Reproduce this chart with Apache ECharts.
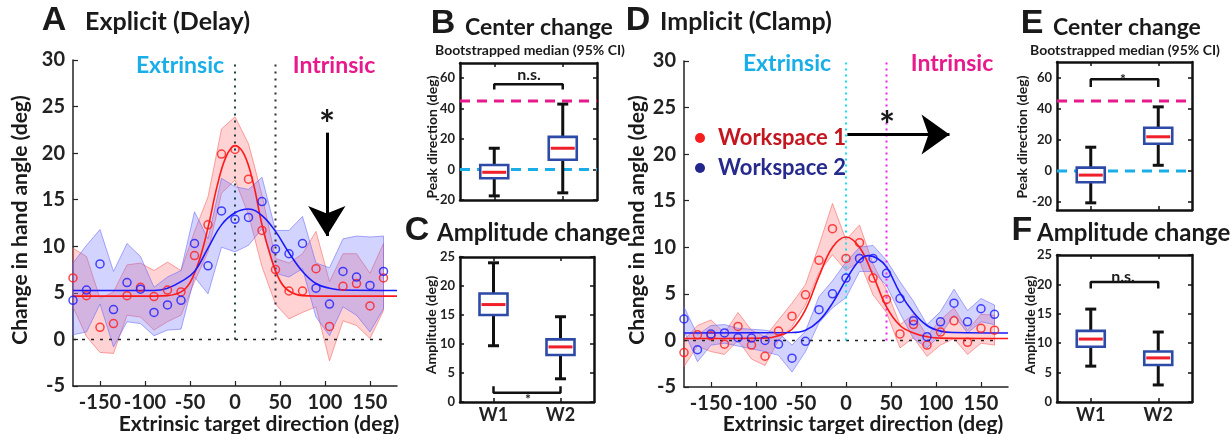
<!DOCTYPE html>
<html>
<head>
<meta charset="utf-8">
<script src="https://cdn.jsdelivr.net/npm/echarts@6/dist/echarts.min.js"></script>
<style>
  html, body { margin: 0; padding: 0; background: #fff; }
  #chart { width: 1231px; height: 434px; }
</style>
</head>
<body>
<div id="chart"></div>
<script>
// target directions (deg), shared by panels A and D
const dirs = [-180,-165,-150,-135,-120,-105,-90,-75,-60,-45,-30,-15,0,15,30,45,60,75,90,105,120,135,150,165];
const dirTicks = [-150,-100,-50,0,50,100,150];

// A - explicit (delay)
const aRedPts  = [6.6,4.7,1.3,1.7,4.7,5.6,4.6,5.3,5.1,9.0,12.3,19.9,20.4,17.2,11.7,7.5,5.2,5.2,7.6,1.4,5.7,6.0,3.6,6.6];
const aRedHi   = [9.8,8.9,4.4,5.1,8.0,8.2,7.4,8.3,7.4,11.6,15.3,22.6,23.9,21.0,15.5,8.7,8.2,9.2,11.6,6.2,9.2,9.2,7.1,10.3];
const aRedLo   = [3.5,0.3,-1.4,-1.5,2.6,2.4,1.0,1.9,2.6,6.2,9.4,15.7,17.1,13.4,7.8,3.8,2.2,2.9,3.5,-2.3,2.0,1.5,0.1,3.1];
const aBluePts = [4.2,5.3,8.1,3.2,6.1,5.4,2.9,3.7,4.2,10.3,7.9,13.8,12.9,13.1,14.8,9.7,9.2,10.3,5.5,3.8,7.3,6.7,5.8,7.3];
const aBlueHi  = [8.2,10.1,11.8,7.3,10.3,8.9,5.6,6.7,7.4,13.7,10.8,17.3,16.4,16.1,17.4,11.7,11.7,13.2,8.2,7.7,10.8,11.1,11.0,11.1];
const aBlueLo  = [0.5,0.8,3.8,-0.8,1.9,1.7,0.4,1.0,1.1,6.7,4.9,9.9,9.4,10.1,11.9,7.1,6.7,7.6,2.4,0.4,3.5,2.6,0.8,3.3];
const aRedFitX  = [-180,-90,-75,-60,-50,-40,-30,-20,-10,0,10,20,30,40,50,60,75,90,180];
const aRedFit   = [4.65,4.65,4.7,5.1,6.1,8.4,12.0,16.4,19.6,20.8,19.9,16.9,12.3,8.8,6.3,5.2,4.7,4.65,4.65];
const aBlueFitX = [-180,-90,-75,-60,-45,-30,-15,0,15,30,45,60,75,90,105,120,180];
const aBlueFit  = [5.25,5.25,5.5,6.2,7.3,9.8,12.3,13.6,14.0,13.3,11.6,9.3,7.3,6.0,5.5,5.3,5.25];

// D - implicit (clamp)
const dRedPts  = [-1.3,0.6,0.5,-0.4,1.5,-0.5,-1.7,1.0,2.6,4.9,8.6,12.0,8.8,10.5,6.7,4.4,0.7,1.7,-0.5,0.9,2.1,-0.2,1.3,1.1];
const dRedHi   = [0.0,1.6,2.2,0.8,3.0,1.1,0.4,2.2,4.0,6.0,10.2,14.7,10.8,12.4,8.2,5.4,1.7,2.8,0.5,2.2,3.5,1.1,2.8,2.7];
const dRedLo   = [-2.8,-0.6,-1.2,-1.5,0.0,-2.0,-2.7,0.0,1.5,3.8,7.3,9.2,7.5,8.5,4.9,3.0,-0.8,0.3,-1.7,-0.5,0.2,-1.5,-0.3,-0.5];
const dBluePts = [2.3,-1.0,0.7,0.8,0.3,0.25,0.0,-0.4,-1.9,-0.1,3.3,5.0,6.7,8.8,8.8,7.2,4.5,2.1,0.4,2.0,4.0,2.0,3.4,2.8];
const dBlueHi  = [3.6,0.6,1.6,1.7,1.3,1.2,1.1,0.8,-0.5,1.0,4.7,6.4,8.4,10.0,10.2,8.6,6.3,4.2,1.7,3.1,5.5,3.2,4.5,3.8];
const dBlueLo  = [1.0,-2.3,-0.5,-0.3,-0.6,-0.9,-1.2,-1.6,-3.4,-1.2,1.9,3.5,4.6,7.4,7.4,5.9,2.9,0.2,-0.8,0.6,2.7,0.8,2.0,1.7];
const dRedFitX  = [-180,-90,-75,-60,-45,-30,-15,0,15,30,45,60,75,90,105,180];
const dRedFit   = [0.2,0.25,0.5,1.2,3.3,6.9,10.0,11.1,10.0,7.0,3.6,1.6,0.8,0.4,0.25,0.2];
const dBlueFitX = [-180,-60,-45,-30,-15,0,15,25,35,45,60,75,90,105,120,180];
const dBlueFit  = [0.8,0.85,1.1,2.1,4.0,6.5,8.6,9.1,8.8,7.9,5.1,3.0,1.6,1.0,0.85,0.8];

// reference directions
const extrinsicDir = 0;
const intrinsicDir = 45;

// bootstrapped boxes: [min, q1, median, q3, max] for W1, W2
const groups = ['W1', 'W2'];
const boxB = [[-17.3,-5.7,-1.8,3.0,14.0],[-15.3,6.4,14.0,21.5,43.0]];
const boxC = [[9.7,15.0,16.8,18.7,24.0],[4.0,8.1,9.5,10.8,14.7]];
const boxE = [[-20.4,-7.2,-2.6,2.2,15.3],[3.7,17.5,22.0,27.8,41.2]];
const boxF = [[6.1,9.4,10.7,12.1,15.8],[2.9,6.3,7.5,8.6,11.9]];
// significance brackets [y of ends, y of bar]
const brB = [52.6, 56];
const brC = [2.7, 1.6];
const brE = [54, 59];
const brF = [19.3, 20.4];

const FONT = 'Lato';
const RED = '#ff1a1a', BLUE = '#1a1aff';

const pair = (xs, ys) => xs.map((x, i) => [x, ys[i]]);

// shaded CI band, drawn as one polygon through the axis scales
function bandSeries(lo, hi, edge, fill, ai) {
  return {
    type: 'custom', xAxisIndex: ai, yAxisIndex: ai, silent: true, z: 1, clip: false,
    encode: { x: 0, y: [1, 2] },
    data: dirs.map((d, i) => [d, lo[i], hi[i]]),
    renderItem: function (params, api) {
      if (params.dataIndexInside !== 0) return null;
      const n = params.dataInsideLength;
      const up = [], dn = [];
      for (let j = 0; j < n; j++) {
        const x = api.value(0, j);
        up.push(api.coord([x, api.value(2, j)]));
        dn.push(api.coord([x, api.value(1, j)]));
      }
      return { type: 'polygon', shape: { points: up.concat(dn.reverse()) },
        style: { fill: fill, stroke: edge, lineWidth: 1 } };
    }
  };
}

function refLine(ai, pts, color, width, dash) {
  return { type: 'line', xAxisIndex: ai, yAxisIndex: ai, data: pts, showSymbol: false, silent: true, z: 2,
    lineStyle: { color: color, width: width, type: dash } };
}

function fitLine(ai, xs, ys, color) {
  return { type: 'line', xAxisIndex: ai, yAxisIndex: ai, data: pair(xs, ys), smooth: 0.4, showSymbol: false,
    silent: true, z: 3, lineStyle: { color: color, width: 1.6 } };
}

function pts(ai, name, ys, color) {
  return { type: 'scatter', name: name, xAxisIndex: ai, yAxisIndex: ai, data: pair(dirs, ys), symbol: 'circle',
    symbolSize: 8, z: 4, itemStyle: { color: 'rgba(0,0,0,0)', borderColor: color, borderWidth: 1.5 } };
}

function renderBox(params, api) {
  const x = api.value(0);
  const c = [1, 2, 3, 4, 5].map(i => api.coord([x, api.value(i)]));
  const cx = c[0][0], bw = 28, cw = 11;
  const blk = { stroke: '#111', lineWidth: 3 };
  return { type: 'group', children: [
    { type: 'line', shape: { x1: cx, y1: c[4][1], x2: cx, y2: c[0][1] }, style: blk },
    { type: 'line', shape: { x1: cx - cw / 2, y1: c[4][1], x2: cx + cw / 2, y2: c[4][1] }, style: blk },
    { type: 'line', shape: { x1: cx - cw / 2, y1: c[0][1], x2: cx + cw / 2, y2: c[0][1] }, style: blk },
    { type: 'rect', shape: { x: cx - bw / 2, y: c[3][1], width: bw, height: c[1][1] - c[3][1] },
      style: { fill: '#fff', stroke: '#2c4aa6', lineWidth: 2.6 } },
    { type: 'line', shape: { x1: cx - bw / 2 + 2, y1: c[2][1], x2: cx + bw / 2 - 2, y2: c[2][1] },
      style: { stroke: '#f0202a', lineWidth: 3 } }
  ] };
}

function boxSeries(ai, boxes) {
  return { type: 'custom', xAxisIndex: ai, yAxisIndex: ai, renderItem: renderBox, clip: false, z: 5,
    encode: { x: 0, y: [1, 2, 3, 4, 5] }, data: boxes.map((b, i) => [i + 1].concat(b)) };
}

function bracket(ai, br) {
  return { type: 'line', xAxisIndex: ai, yAxisIndex: ai, showSymbol: false, silent: true, z: 6,
    data: [[1, br[0]], [1, br[1]], [2, br[1]], [2, br[0]]], lineStyle: { color: '#111', width: 2.5 } };
}

// axes helpers
const axLine = { onZero: false, lineStyle: { color: '#222', width: 1.5 } };
function mainX(gi, ticks) {
  return { gridIndex: gi, type: 'value', min: -180, max: 180, axisLine: axLine,
    axisTick: { inside: true, length: 5, customValues: ticks, lineStyle: { color: '#222', width: 1.2 } },
    axisLabel: { customValues: ticks, margin: 7, fontFamily: FONT, fontWeight: 'bold', fontSize: 20, color: '#222' },
    splitLine: { show: false } };
}
function mainY(gi) {
  return { gridIndex: gi, type: 'value', min: -5, max: 30, interval: 5, axisLine: axLine,
    axisTick: { inside: true, length: 5, lineStyle: { color: '#222', width: 1.2 } },
    axisLabel: { margin: 8, fontFamily: FONT, fontWeight: 'bold', fontSize: 20, color: '#222' },
    splitLine: { show: false } };
}
const frameLine = { show: true, onZero: false, lineStyle: { color: '#111', width: 2.5 } };
function boxX(gi, showLabels, pos) {
  return { gridIndex: gi, type: 'value', min: 0.5, max: 2.5, position: pos || 'bottom', axisLine: frameLine,
    axisTick: { inside: true, length: 4, customValues: [1, 2], lineStyle: { color: '#111', width: 1.5 } },
    axisLabel: { show: showLabels, customValues: [1, 2], margin: 4, formatter: v => groups[Math.round(v) - 1],
      fontFamily: FONT, fontWeight: 'bold', fontSize: 18, color: '#222' },
    splitLine: { show: false } };
}
function boxY(gi, min, max, ticks, showLabels, pos) {
  return { gridIndex: gi, type: 'value', min: min, max: max, position: pos || 'left', axisLine: frameLine,
    axisTick: { inside: true, length: 4, customValues: ticks, lineStyle: { color: '#111', width: 1.5 } },
    axisLabel: { show: showLabels, customValues: ticks, margin: 5, fontFamily: FONT, fontWeight: 'bold',
      fontSize: 13, color: '#222' },
    splitLine: { show: false } };
}

function txt(text, x, y, size, o) {
  o = o || {};
  return { type: 'text', x: x, y: y, rotation: o.rot || 0, z: 100, silent: true,
    style: { text: text, fontFamily: o.family || FONT, fontWeight: 'bold', fontSize: size,
      fill: o.color || '#1a1a1a', align: o.align || 'center', verticalAlign: 'middle' } };
}

const CYAN_T = '#19aee8', MAG_T = '#e8198c';
const ticksBE = [-20, 0, 20, 40, 60];
const ticksCF = [0, 5, 10, 15, 20, 25];

const option = {
  backgroundColor: '#fff',
  animation: false,
  grid: [
    { left: 73, top: 60, width: 324, height: 326 },     // A
    { left: 460, top: 63, width: 137, height: 137 },    // B
    { left: 460, top: 257, width: 134, height: 145 },   // C
    { left: 684, top: 61, width: 324, height: 326 },    // D
    { left: 1057, top: 62, width: 135, height: 148 },   // E
    { left: 1057, top: 255, width: 135, height: 147 }   // F
  ],
  xAxis: [
    mainX(0, dirTicks), boxX(1, false), boxX(2, true), mainX(3, dirTicks), boxX(4, false), boxX(5, true),
    boxX(1, false, 'top'), boxX(2, false, 'top'), boxX(4, false, 'top'), boxX(5, false, 'top')
  ],
  yAxis: [
    mainY(0), boxY(1, -20, 70, ticksBE, true), boxY(2, 0, 25, ticksCF, true), mainY(3),
    boxY(4, -25, 70, ticksBE, true), boxY(5, 0, 25, ticksCF, true),
    boxY(1, -20, 70, ticksBE, false, 'right'), boxY(2, 0, 25, ticksCF, false, 'right'),
    boxY(4, -25, 70, ticksBE, false, 'right'), boxY(5, 0, 25, ticksCF, false, 'right')
  ],
  legend: {
    orient: 'vertical', left: 690, top: 122, itemWidth: 10, itemHeight: 10, itemGap: 8, selectedMode: false,
    textStyle: { fontFamily: FONT, fontWeight: 'bold', fontSize: 22, padding: [0, 0, 0, 8] },
    data: [
      { name: 'Workspace 1', icon: 'circle',
        itemStyle: { color: '#f41e1e', opacity: 1, borderColor: '#f41e1e', borderWidth: 0 }, textStyle: { color: '#c3161f' } },
      { name: 'Workspace 2', icon: 'circle',
        itemStyle: { color: '#23268a', opacity: 1, borderColor: '#23268a', borderWidth: 0 }, textStyle: { color: '#262a8c' } }
    ]
  },
  series: [
    // ---- A ----
    bandSeries(aRedLo, aRedHi, 'rgba(250,90,90,0.55)', 'rgba(255,110,110,0.3)', 0),
    bandSeries(aBlueLo, aBlueHi, 'rgba(100,100,250,0.55)', 'rgba(110,110,255,0.3)', 0),
    refLine(0, [[-180, 0], [165, 0]], '#222', 1.5, [3, 6]),
    refLine(0, [[extrinsicDir, 0], [extrinsicDir, 30]], '#1f4040', 2, [2, 5]),
    refLine(0, [[intrinsicDir, 0], [intrinsicDir, 30]], '#3a2838', 2, [2, 5]),
    Object.assign(fitLine(0, aRedFitX, aRedFit, RED), {
      markLine: { silent: true, symbol: ['none', 'arrow'], symbolSize: [28, 30], label: { show: false },
        lineStyle: { color: '#000', width: 3, type: 'solid' },
        data: [[{ coord: [102, 22.2] }, { coord: [102, 11.1] }]] }
    }),
    fitLine(0, aBlueFitX, aBlueFit, BLUE),
    pts(0, 'Workspace 1', aRedPts, RED),
    pts(0, 'Workspace 2', aBluePts, BLUE),
    // ---- D ----
    bandSeries(dRedLo, dRedHi, 'rgba(250,90,90,0.55)', 'rgba(255,110,110,0.3)', 3),
    bandSeries(dBlueLo, dBlueHi, 'rgba(100,100,250,0.55)', 'rgba(110,110,255,0.3)', 3),
    refLine(3, [[-180, 0], [170, 0]], '#222', 1.5, [3, 6]),
    refLine(3, [[extrinsicDir, 0], [extrinsicDir, 30]], '#10e0f0', 2, [2, 4]),
    refLine(3, [[intrinsicDir, 0], [intrinsicDir, 30]], '#ee22ee', 2, [2, 4]),
    Object.assign(fitLine(3, dRedFitX, dRedFit, RED), {
      markLine: { silent: true, symbol: ['none', 'arrow'], symbolSize: [30, 28], label: { show: false },
        lineStyle: { color: '#000', width: 3, type: 'solid' },
        data: [[{ coord: [1.5, 22.1] }, { coord: [115, 22.1] }]] }
    }),
    fitLine(3, dBlueFitX, dBlueFit, BLUE),
    pts(3, 'Workspace 1', dRedPts, RED),
    pts(3, 'Workspace 2', dBluePts, BLUE),
    // ---- B ----
    refLine(1, [[0.5, intrinsicDir], [2.5, intrinsicDir]], MAG_T, 3, [10, 7]),
    refLine(1, [[0.5, extrinsicDir], [2.5, extrinsicDir]], CYAN_T, 3, [10, 7]),
    boxSeries(1, boxB), bracket(1, brB),
    // ---- C ----
    boxSeries(2, boxC), bracket(2, brC),
    // ---- E ----
    refLine(4, [[0.5, intrinsicDir], [2.5, intrinsicDir]], MAG_T, 3, [10, 7]),
    refLine(4, [[0.5, extrinsicDir], [2.5, extrinsicDir]], CYAN_T, 3, [10, 7]),
    boxSeries(4, boxE), bracket(4, brE),
    // ---- F ----
    boxSeries(5, boxF), bracket(5, brF)
  ],
  graphic: [
    // A
    txt('A', 54, 21, 34, { family: 'Liberation Sans' }),
    txt('Explicit (Delay)', 85, 22, 25, { align: 'left' }),
    txt('Extrinsic', 180, 66, 23, { color: CYAN_T }),
    txt('Intrinsic', 334, 66, 23, { color: MAG_T }),
    txt('*', 327, 126, 38),
    txt('Change in hand angle (deg)', 20, 220, 21, { rot: Math.PI / 2 }),
    txt('Extrinsic target direction (deg)', 259, 424, 21),
    // B
    txt('B', 443, 24, 34, { family: 'Liberation Sans' }),
    txt('Center change', 465, 28, 23, { align: 'left' }),
    txt('Bootstrapped median (95% CI)', 530, 50, 14),
    txt('n.s.', 529, 75, 16),
    txt('Peak direction (deg)', 432, 137, 14, { rot: Math.PI / 2 }),
    // C
    txt('C', 417, 231, 34, { family: 'Liberation Sans' }),
    txt('Amplitude change', 437, 233, 24, { align: 'left' }),
    txt('*', 528, 399, 14),
    txt('Amplitude (deg)', 431, 325, 14, { rot: Math.PI / 2 }),
    // D
    txt('D', 638, 21, 34, { family: 'Liberation Sans' }),
    txt('Implicit (Clamp)', 660, 22, 25, { align: 'left' }),
    txt('Extrinsic', 787, 64, 23, { color: CYAN_T }),
    txt('Intrinsic', 952, 64, 23, { color: MAG_T }),
    txt('*', 887, 127, 38),
    txt('Change in hand angle (deg)', 637, 220, 21, { rot: Math.PI / 2 }),
    txt('Extrinsic target direction (deg)', 863, 424, 21),
    // E
    txt('E', 1032, 24, 34, { family: 'Liberation Sans' }),
    txt('Center change', 1053, 28, 23, { align: 'left' }),
    txt('Bootstrapped median (95% CI)', 1125, 50, 14),
    txt('*', 1123, 79, 14),
    txt('Peak direction (deg)', 1022, 137, 14, { rot: Math.PI / 2 }),
    // F
    txt('F', 1022, 231, 34, { family: 'Liberation Sans' }),
    txt('Amplitude change', 1037, 233, 24, { align: 'left' }),
    txt('n.s.', 1123, 277, 16),
    txt('Amplitude (deg)', 1030, 325, 14, { rot: Math.PI / 2 })
  ]
};

const chart = echarts.init(document.getElementById('chart'));
chart.setOption(option);
</script>
</body>
</html>
